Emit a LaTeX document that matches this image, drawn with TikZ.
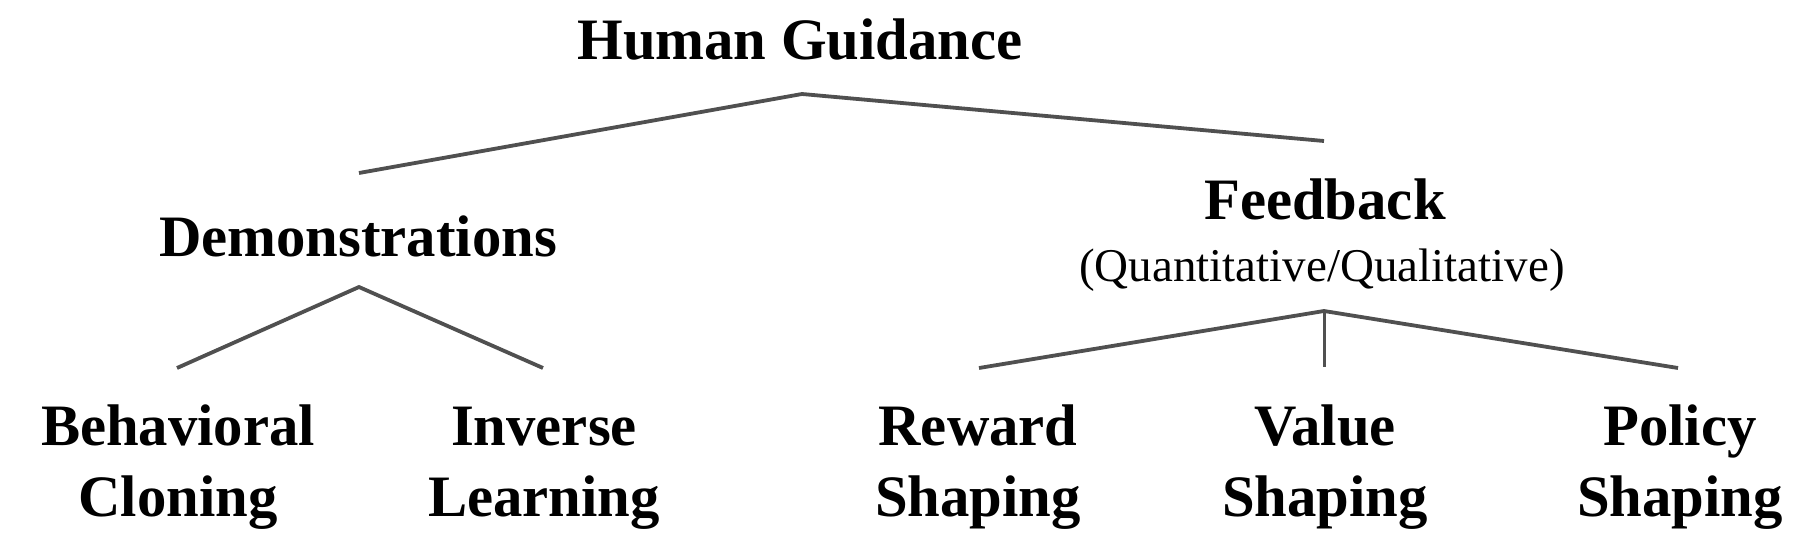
\documentclass[tikz,border=0pt]{standalone}
\usepackage{fontspec}
\setmainfont{Liberation Serif}
\definecolor{linegray}{HTML}{505050}
\begin{document}
\begin{tikzpicture}[x=1pt,y=-1pt,
  lbl/.style={font=\bfseries\fontsize{58.7}{71}\selectfont, align=center, inner sep=0pt, anchor=base},
  sublbl/.style={font=\fontsize{47}{56}\selectfont, inner sep=0pt, anchor=base},
  branch/.style={draw=linegray, line width=3.8pt, line join=miter},
  stem/.style={draw=linegray, line width=3pt}]
\useasboundingbox[fill=white] (0,0) rectangle (1806,536);
% labels (base anchor = baseline of the last line)
\node[lbl] (hg) at (800,59) {Human Guidance};
\node[lbl] (demo) at (358,256) {Demonstrations};
\node[lbl] (fb) at (1325,219) {Feedback};
\node[sublbl] (fbq) at (1322,281) {(Quantitative/Qualitative)};
\node[lbl] (bc) at (178,516) {Behavioral\\Cloning};
\node[lbl] (il) at (544,516) {Inverse\\Learning};
\node[lbl] (rs) at (978,516) {Reward\\Shaping};
\node[lbl] (vs) at (1325,516) {Value\\Shaping};
\node[lbl] (ps) at (1680,516) {Policy\\Shaping};
% junctions and branch ends
\coordinate (hgJ) at (802,94);
\coordinate (demoT) at (359,173);
\coordinate (fbT) at (1324,141);
\coordinate (demoJ) at (359,287);
\coordinate (bcT) at (177,368);
\coordinate (ilT) at (543,368);
\coordinate (fbJ) at (1324,311);
\coordinate (rsT) at (979,368);
\coordinate (vsT) at (1324,367);
\coordinate (psT) at (1678,368);
% connectors
\draw[branch] (demoT) -- (hgJ) -- (fbT);
\draw[branch] (bcT) -- (demoJ) -- (ilT);
\draw[branch] (rsT) -- (fbJ) -- (psT);
\draw[stem] (fbJ) -- (vsT);
\end{tikzpicture}
\end{document}
